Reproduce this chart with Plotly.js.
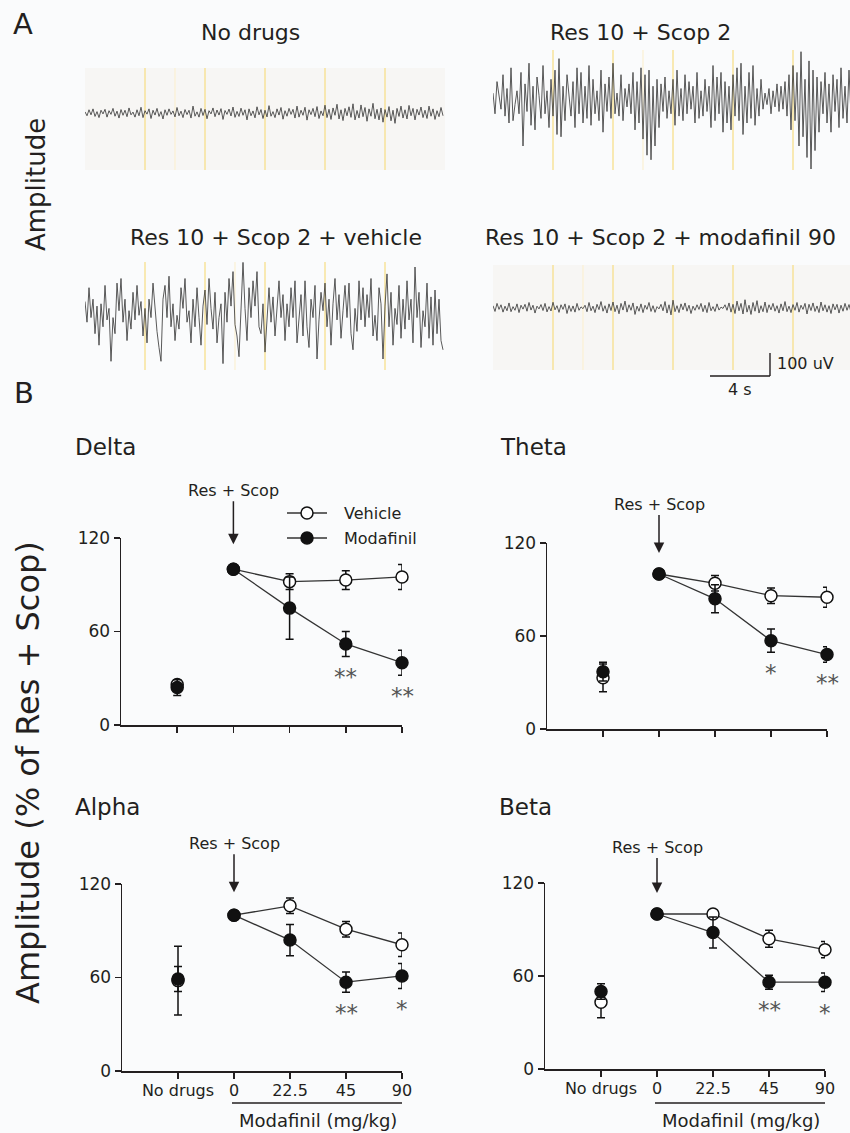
<!DOCTYPE html>
<html><head><meta charset="utf-8">
<script src="https://cdn.plot.ly/plotly-3.0.1.min.js"></script>
<style>html,body{margin:0;padding:0;background:#fafbfc;} #chart{width:850px;height:1133px;}</style>
</head><body><div id="chart"></div>
<script>
// ---------- Panel B data ----------
const doses = ['No drugs', '0', '22.5', '45', '90'];
const seriesNames = ['Vehicle', 'Modafinil'];

const deltaVeh = [26, 100, 92, 93, 95];
const deltaVehErr = [3, 0, 5, 6, 8];
const deltaMod = [24, 100, 75, 52, 40];
const deltaModErr = [5, 0, 20, 8, 8];
const deltaSig = ['', '', '', '**', '**'];

const thetaVeh = [33, 100, 94, 86, 85];
const thetaVehErr = [9, 0, 5, 5, 6.5];
const thetaMod = [37, 100, 84, 57, 48];
const thetaModErr = [6, 0, 9, 7.5, 5];
const thetaSig = ['', '', '', '*', '**'];

const alphaVeh = [58, 100, 106, 91, 81];
const alphaVehErr = [22, 0, 5, 5, 7.5];
const alphaMod = [59, 100, 84, 57, 61];
const alphaModErr = [8, 0, 10, 6.5, 8];
const alphaSig = ['', '', '', '**', '*'];

const betaVeh = [43, 100, 100, 84, 77];
const betaVehErr = [10, 0, 2, 5.5, 5.3];
const betaMod = [50, 100, 88, 56, 56];
const betaModErr = [5, 0, 10, 4.5, 6];
const betaSig = ['', '', '', '**', '*'];

// ---------- Panel A data (EEG, uV; 180 samples over 24 s) ----------
const traceDuration = 24;
const eventTimes = [4, 8, 12, 16, 20];
const noDrugsEEG = [5,-12,14,-8,18,-15,6,-20,12,-4,16,-18,10,-6,20,-14,8,-22,15,-10,
12,-16,22,-8,4,-18,14,-12,25,-20,10,-5,18,-24,12,-9,20,-15,6,-26,
14,-10,18,-6,9,-17,24,-12,8,-20,15,-7,12,-22,30,-14,5,-18,20,-11,
16,-25,10,-4,22,-16,13,-9,19,-28,11,-6,17,-13,26,-19,7,-15,21,-10,
14,-30,18,-12,9,-21,27,-8,15,-24,12,-17,32,-14,6,-20,18,-9,24,-27,
10,-14,20,-6,16,-22,30,-18,12,-10,25,-31,14,-7,20,-16,28,-24,9,-12,
34,-20,16,-28,22,-10,38,-26,14,-33,20,-12,27,-19,40,-30,11,-22,35,-16,
24,-36,18,-14,42,-25,16,-30,22,-40,15,-18,28,-34,12,-45,20,-15,30,-22,
14,-26,33,-12,20,-30,16,-9,26,-20,12,-24,30,-14,18,-28,10,-16,24,-12];
const resScopEEG = [30,-60,80,10,-40,110,-70,50,-100,140,-90,-20,40,-60,120,-200,70,-50,160,-110,
60,-130,100,20,-80,150,-60,40,-120,90,-70,130,-150,180,-160,60,-90,110,30,-70,
80,-120,140,-60,120,-100,60,-80,150,-110,90,-60,40,-90,130,-140,70,-50,100,-80,
160,-60,30,-70,110,-90,50,-30,70,-60,120,-130,80,-100,140,-170,110,-240,130,-260,
60,-200,90,-120,70,-50,100,-80,40,-60,90,-110,130,-70,50,-90,110,-60,80,-40,
60,-100,120,-80,40,-70,90,-50,60,-120,150,-90,100,-60,120,-140,80,-100,60,-130,
110,-70,140,-90,160,-150,60,-100,120,-80,150,-110,50,-70,90,-40,30,-20,50,-60,
40,-30,70,-50,60,-40,80,-70,110,-130,150,-90,120,-200,210,-160,90,-250,170,-300,
130,-220,100,-140,80,-60,120,-100,70,-140,110,-50,90,-120,140,-80,60,-100,130,-70];
const vehicleEEG = [50,-40,110,-20,60,-90,30,-140,40,-60,120,-30,20,-210,-20,-90,130,10,150,-40,
60,-120,10,-70,90,-30,120,-10,50,-100,20,-130,60,-20,130,10,-80,-150,-210,60,
120,-20,160,-60,40,-120,-10,-70,110,20,150,-40,10,-130,60,-60,110,-20,-140,30,
100,-50,150,20,-70,90,-130,-20,40,-220,90,-40,150,30,180,-50,-100,-190,40,220,
20,-120,110,-20,140,30,180,-60,-90,40,-170,-10,110,-40,70,-100,30,140,-20,80,
-120,40,-60,110,-20,140,-130,-40,80,-100,140,-60,-150,60,-20,120,-200,-30,90,10,
130,-60,60,-140,40,150,-30,80,-110,10,120,-20,130,-90,-160,20,-80,140,-30,110,
-60,80,-20,150,-100,-10,-120,110,40,-200,30,170,-60,90,-140,20,-50,120,-110,60,
-70,140,-30,60,-130,200,-20,90,-150,10,-60,130,-110,70,-140,100,-90,60,-120,-160];
const mod90EEG = [10,-15,20,-6,14,-18,8,-12,22,-16,6,-10,18,-20,12,-5,16,-14,24,-9,
12,-22,8,-4,15,-11,20,-17,6,-13,25,-8,10,-19,14,-6,18,-24,11,-15,
9,-18,20,-10,5,-3,12,-16,24,-12,8,-20,16,-7,28,-14,10,-22,18,-11,
26,-16,12,-25,20,-9,30,-18,14,-10,22,-28,8,-14,18,-20,12,-6,24,-15,
10,-19,6,-4,16,-12,28,-22,14,-30,34,-16,10,-20,18,-8,22,-14,12,-24,
8,-10,14,-6,20,-16,12,-20,24,-12,6,-15,18,-9,4,-2,14,-10,22,-18,
16,-24,30,-12,20,-26,36,-18,12,-28,24,-14,32,-22,10,-16,26,-20,14,-8,
20,-14,10,-22,18,-12,28,-16,8,-20,15,-10,24,-18,12,-6,20,-26,16,-11,
22,-15,9,-20,26,-12,14,-18,10,-24,18,-8,16,-22,12,-14,20,-10,15,-18];

// ---------- helpers ----------
const W = 850, H = 1133;
const px = x => x / W;
const py = y => 1 - y / H;
const F = 'DejaVu Sans, sans-serif';
const TXT = '#231f20';
const UV_PER_PX = 100 / 23;   // scale bar: 100 uV = 23 px
const S_PER_PX = 4 / 60;      // scale bar: 4 s = 60 px

const traces = [];
const shapes = [];
const annotations = [];
const layout = {
  width: W, height: H, margin: {l: 0, r: 0, t: 0, b: 0},
  paper_bgcolor: '#fafbfc', plot_bgcolor: 'rgba(0,0,0,0)',
  showlegend: false, font: {family: F, color: TXT},
};

// ---------- Panel A ----------
const eegPanels = [
  {name: 'No drugs', vals: noDrugsEEG, ax: '', left: 85, right: 445, top: 68, bottom: 170, center: 113, faint: [6], box: true, tx: 250, ty: 33},
  {name: 'Res 10 + Scop 2', vals: resScopEEG, ax: '2', left: 493, right: 850, top: 50, bottom: 170, center: 100, faint: [10], box: false, tx: 640, ty: 33},
  {name: 'Res 10 + Scop 2 + vehicle', vals: vehicleEEG, ax: '3', left: 85, right: 445, top: 262, bottom: 370, center: 313, faint: [10], box: false, tx: 276, ty: 237},
  {name: 'Res 10 + Scop 2 + modafinil 90', vals: mod90EEG, ax: '4', left: 493, right: 850, top: 265, bottom: 370, center: 308, faint: [6], box: true, tx: 660, ty: 237},
];
eegPanels.forEach(p => {
  const dt = traceDuration / p.vals.length;
  const xa = 'x' + p.ax, ya = 'y' + p.ax;
  layout['xaxis' + p.ax] = {domain: [px(p.left), px(p.right)], anchor: ya, range: [0, (p.right - p.left) * S_PER_PX], visible: false, fixedrange: true};
  layout['yaxis' + p.ax] = {domain: [py(p.bottom), py(p.top)], anchor: xa,
    range: [-(p.bottom - p.center) * UV_PER_PX, (p.center - p.top) * UV_PER_PX], visible: false, fixedrange: true};
  if (p.box) shapes.push({type: 'rect', xref: xa + ' domain', yref: ya + ' domain', x0: 0, x1: 1, y0: 0, y1: 1,
    fillcolor: '#f7f6f4', line: {width: 0}, layer: 'below'});
  p.faint.forEach(t => shapes.push({type: 'line', xref: xa, yref: ya + ' domain', x0: t, x1: t, y0: 0, y1: 1,
    line: {color: '#fbf1d2', width: 1.2}, layer: 'below'}));
  eventTimes.forEach(t => shapes.push({type: 'line', xref: xa, yref: ya + ' domain', x0: t, x1: t, y0: 0, y1: 1,
    line: {color: '#f7df8c', width: 1.3}, layer: 'below'}));
  traces.push({type: 'scatter', mode: 'lines', x: p.vals.map((_, i) => i * dt), y: p.vals, xaxis: xa, yaxis: ya,
    line: {color: '#3c3c3c', width: 0.85}, hoverinfo: 'skip', showlegend: false});
  annotations.push({xref: 'paper', yref: 'paper', x: px(p.tx), y: py(p.ty), text: p.name, showarrow: false,
    xanchor: 'center', yanchor: 'middle', font: {family: F, size: 22, color: TXT}});
});

// scale bar
shapes.push({type: 'line', xref: 'paper', yref: 'paper', x0: px(770), x1: px(770), y0: py(353), y1: py(376), line: {color: TXT, width: 1.4}});
shapes.push({type: 'line', xref: 'paper', yref: 'paper', x0: px(710), x1: px(770), y0: py(376), y1: py(376), line: {color: TXT, width: 1.4}});
annotations.push({xref: 'paper', yref: 'paper', x: px(775), y: py(364), text: '100 uV', showarrow: false, xanchor: 'left', yanchor: 'middle', font: {family: F, size: 16, color: TXT}});
annotations.push({xref: 'paper', yref: 'paper', x: px(740), y: py(389), text: '4 s', showarrow: false, xanchor: 'center', yanchor: 'middle', font: {family: F, size: 16, color: TXT}});

// ---------- Panel B ----------
const bPanels = [
  {name: 'Delta', veh: deltaVeh, vehErr: deltaVehErr, mod: deltaMod, modErr: deltaModErr, sig: deltaSig, ax: '5',
   left: 121, right: 402, top: 538, bottom: 725, labels: false, tx: 73, ty: 447, arrowAy: -79, standoff: 25},
  {name: 'Theta', veh: thetaVeh, vehErr: thetaVehErr, mod: thetaMod, modErr: thetaModErr, sig: thetaSig, ax: '6',
   left: 547, right: 827, top: 543, bottom: 729, labels: false, tx: 498, ty: 447, arrowAy: -70, standoff: 21},
  {name: 'Alpha', veh: alphaVeh, vehErr: alphaVehErr, mod: alphaMod, modErr: alphaModErr, sig: alphaSig, ax: '7',
   left: 122, right: 402, top: 884, bottom: 1071, labels: true, tx: 73, ty: 807, arrowAy: -72, standoff: 23},
  {name: 'Beta', veh: betaVeh, vehErr: betaVehErr, mod: betaMod, modErr: betaModErr, sig: betaSig, ax: '8',
   left: 545, right: 825, top: 883, bottom: 1069, labels: true, tx: 497, ty: 807, arrowAy: -67, standoff: 21},
];
const axisStyle = {showline: true, linecolor: TXT, linewidth: 1.5, ticks: 'outside', ticklen: 6, tickwidth: 1.5,
  tickcolor: TXT, showgrid: false, zeroline: false, fixedrange: true};
const openMarker = {symbol: 'circle', size: 12, color: '#ffffff', line: {color: '#111', width: 1.5}};
const filledMarker = {symbol: 'circle', size: 12, color: '#111', line: {color: '#111', width: 1.5}};
const connLine = {color: '#333', width: 1.3};
bPanels.forEach(p => {
  const xa = 'x' + p.ax, ya = 'y' + p.ax;
  layout['xaxis' + p.ax] = Object.assign({}, axisStyle, {domain: [px(p.left), px(p.right)], anchor: ya, type: 'category',
    categoryorder: 'array', categoryarray: doses, range: [-1, 4], showticklabels: p.labels, ticklabelstandoff: -2,
    tickfont: {family: F, size: 16, color: TXT}});
  layout['yaxis' + p.ax] = Object.assign({}, axisStyle, {domain: [py(p.bottom), py(p.top)], anchor: xa, range: [0, 120],
    tickvals: [0, 60, 120], tickfont: {family: F, size: 17, color: TXT}});
  const err = (a) => ({type: 'data', array: a, visible: true, thickness: 1.5, width: 4, color: '#111'});
  traces.push({type: 'scatter', mode: 'markers', x: doses.slice(0, 1), y: p.veh.slice(0, 1), error_y: err(p.vehErr.slice(0, 1)),
    marker: openMarker, xaxis: xa, yaxis: ya, cliponaxis: false, hoverinfo: 'skip'});
  traces.push({type: 'scatter', mode: 'lines+markers', name: seriesNames[0], x: doses.slice(1), y: p.veh.slice(1), error_y: err(p.vehErr.slice(1)),
    marker: openMarker, line: connLine, xaxis: xa, yaxis: ya, cliponaxis: false, hoverinfo: 'skip'});
  traces.push({type: 'scatter', mode: 'markers', x: doses.slice(0, 1), y: p.mod.slice(0, 1), error_y: err(p.modErr.slice(0, 1)),
    marker: filledMarker, xaxis: xa, yaxis: ya, cliponaxis: false, hoverinfo: 'skip'});
  traces.push({type: 'scatter', mode: 'lines+markers', name: seriesNames[1], x: doses.slice(1), y: p.mod.slice(1), error_y: err(p.modErr.slice(1)),
    marker: filledMarker, line: connLine, xaxis: xa, yaxis: ya, cliponaxis: false, hoverinfo: 'skip'});
  // panel title
  annotations.push({xref: 'paper', yref: 'paper', x: px(p.tx), y: py(p.ty), text: p.name, showarrow: false,
    xanchor: 'left', yanchor: 'middle', font: {family: F, size: 23, color: TXT}});
  // Res + Scop arrow (points at the dose-0 marker; category index 1)
  annotations.push({xref: xa, yref: ya, x: 1, y: p.mod[1], text: 'Res + Scop', showarrow: true, ax: 0, ay: p.arrowAy,
    standoff: p.standoff, arrowhead: 2, arrowsize: 1.4, arrowwidth: 1.5, arrowcolor: TXT, font: {family: F, size: 16, color: TXT}});
  // significance stars
  p.sig.forEach((s, i) => {
    if (!s) return;
    annotations.push({xref: xa, yref: ya, x: i, y: p.mod[i] - p.modErr[i], text: s, showarrow: false,
      xanchor: 'center', yanchor: 'middle', yshift: -21, font: {family: F, size: 23, color: '#555555'}});
  });
  if (p.labels) {
    const a = (p.right - p.left) / 5;  // px per category
    shapes.push({type: 'line', xref: xa, yref: 'paper', x0: 1 - 2 / a, x1: 4 + 3 / a, y0: py(1103), y1: py(1103), line: {color: TXT, width: 1.4}});
    annotations.push({xref: xa, yref: 'paper', x: 2.5, y: py(1120), text: 'Modafinil (mg/kg)', showarrow: false,
      xanchor: 'center', yanchor: 'middle', font: {family: F, size: 18, color: TXT}});
  }
});

// legend (drawn in the Delta panel)
seriesNames.forEach((name, k) => {
  const yc = 513 + 25 * k;
  shapes.push({type: 'line', xref: 'paper', yref: 'paper', x0: px(287), x1: px(327), y0: py(yc), y1: py(yc), line: connLine});
  shapes.push({type: 'circle', xref: 'paper', yref: 'paper', x0: px(301), x1: px(313), y0: py(yc + 6), y1: py(yc - 6),
    fillcolor: k === 0 ? '#ffffff' : '#111', line: {color: '#111', width: 1.5}});
  annotations.push({xref: 'paper', yref: 'paper', x: px(342), y: py(yc), text: name, showarrow: false,
    xanchor: 'left', yanchor: 'middle', font: {family: F, size: 16, color: TXT}});
});

// big labels
annotations.push({xref: 'paper', yref: 'paper', x: px(23), y: py(24), text: 'A', showarrow: false, xanchor: 'center', yanchor: 'middle', font: {family: F, size: 29, color: TXT}});
annotations.push({xref: 'paper', yref: 'paper', x: px(24), y: py(393), text: 'B', showarrow: false, xanchor: 'center', yanchor: 'middle', font: {family: F, size: 29, color: TXT}});
annotations.push({xref: 'paper', yref: 'paper', x: px(36), y: py(185), text: 'Amplitude', showarrow: false, textangle: -90, xanchor: 'center', yanchor: 'middle', font: {family: F, size: 26, color: TXT}});
annotations.push({xref: 'paper', yref: 'paper', x: px(28), y: py(773), text: 'Amplitude (% of Res + Scop)', showarrow: false, textangle: -90, xanchor: 'center', yanchor: 'middle', font: {family: F, size: 32, color: TXT}});

layout.shapes = shapes;
layout.annotations = annotations;
Plotly.newPlot('chart', traces, layout, {displayModeBar: false, staticPlot: true});
</script></body></html>
